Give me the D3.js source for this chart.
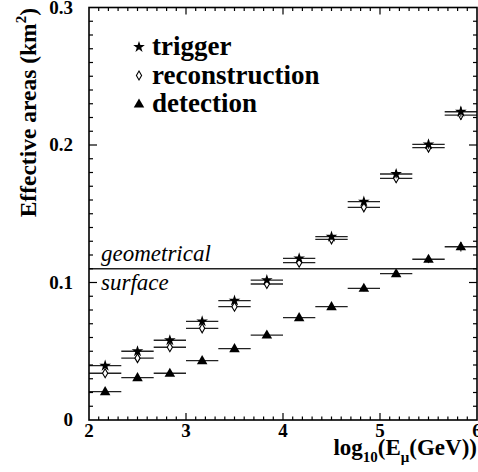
<!DOCTYPE html>
<html><head><meta charset="utf-8">
<script src="https://cdn.jsdelivr.net/npm/d3@7"></script>
<style>
body{margin:0;background:#fff}svg{display:block}
text{font-family:"Liberation Serif","Times New Roman",Times,"DejaVu Serif",serif;}
</style>
</head><body>
<script>
// ---- data ----
const binLow  = [2.0, 2.333, 2.667, 3.0, 3.333, 3.667, 4.0, 4.333, 4.667, 5.0, 5.333, 5.667];
const binHigh = [2.333, 2.667, 3.0, 3.333, 3.667, 4.0, 4.333, 4.667, 5.0, 5.333, 5.667, 6.0];
const trigger = [0.0395, 0.050, 0.058, 0.0718, 0.0868, 0.1018, 0.1176, 0.1333, 0.1588, 0.1789, 0.2005, 0.2242];
const triggerErr = [0.0010, 0.0011, 0.0012, 0.0014, 0.0016, 0.0018, 0.0020, 0.0022, 0.0026, 0.0030, 0.0033, 0.0037];
const reconstruction = [0.034, 0.045, 0.0529, 0.0667, 0.0824, 0.0989, 0.1144, 0.1314, 0.1547, 0.1758, 0.1981, 0.2218];
const reconstructionErr = [0.0010, 0.0011, 0.0012, 0.0014, 0.0016, 0.0018, 0.0020, 0.0022, 0.0026, 0.0030, 0.0033, 0.0037];
const detection = [0.0206, 0.0308, 0.034, 0.0432, 0.0519, 0.0618, 0.0744, 0.0824, 0.0958, 0.1064, 0.1169, 0.126];
const detectionErr = [0.0008, 0.0009, 0.0010, 0.0011, 0.0013, 0.0014, 0.0016, 0.0018, 0.0021, 0.0024, 0.0028, 0.0035];
const geometricalSurface = 0.11;
const xTicks = [2, 3, 4, 5, 6];
const yTicks = [0, 0.1, 0.2, 0.3];
const yTickLabels = ["0", "0.1", "0.2", "0.3"];
const legendLabels = ["trigger", "reconstruction", "detection"];

const W = 478, H = 472;
const x = d3.scaleLinear().domain([2, 6]).range([89, 477]);
const y = d3.scaleLinear().domain([0, 0.3]).range([420, 7.5]);

const svg = d3.select("body").append("svg").attr("width", W).attr("height", H);

// markers
const starPath = d3.symbol().type(d3.symbolStar).size(42)();
const triPath = d3.symbol().type(d3.symbolTriangle).size(48)();
const diamondPath = "M0,-4.5L2.6,0L0,4.5L-2.6,0Z";

function drawSeries(vals, errs, kind) {
  const g = svg.append("g");
  vals.forEach((v, i) => {
    const cx = x((binLow[i] + binHigh[i]) / 2);
    g.append("line").attr("x1", x(binLow[i])).attr("x2", x(binHigh[i]))
      .attr("y1", y(v)).attr("y2", y(v)).attr("stroke", "#222").attr("stroke-width", 1.3);
    g.append("line").attr("x1", cx).attr("x2", cx)
      .attr("y1", y(v - errs[i])).attr("y2", y(v + errs[i])).attr("stroke", "#222").attr("stroke-width", 1.2);
    drawMarker(g, kind, cx, y(v));
  });
}
function drawMarker(g, kind, cx, cy) {
  if (kind === "star") g.append("path").attr("d", starPath).attr("transform", `translate(${cx},${cy})`).attr("fill", "#000");
  else if (kind === "diamond") g.append("path").attr("d", diamondPath).attr("transform", `translate(${cx},${cy})`).attr("fill", "#fff").attr("stroke", "#000").attr("stroke-width", 1.1);
  else g.append("path").attr("d", triPath).attr("transform", `translate(${cx},${cy+0.5})`).attr("fill", "#000");
}

drawSeries(detection, detectionErr, "tri");
drawSeries(reconstruction, reconstructionErr, "diamond");
drawSeries(trigger, triggerErr, "star");

// geometrical surface line
svg.append("line").attr("x1", x(2)).attr("x2", x(6))
  .attr("y1", y(geometricalSurface)).attr("y2", y(geometricalSurface))
  .attr("stroke", "#222").attr("stroke-width", 1.3);
svg.append("text").attr("x", 101).attr("y", 261)
  .style("font-style", "italic").style("font-size", "23px").text("geometrical");
svg.append("text").attr("x", 101).attr("y", 290)
  .style("font-style", "italic").style("font-size", "23px").text("surface");

// frame
svg.append("rect").attr("x", x(2)).attr("y", y(0.3)).attr("width", x(6) - x(2)).attr("height", y(0) - y(0.3))
  .attr("fill", "none").attr("stroke", "#000").attr("stroke-width", 1.6);

// ticks
const xMinor = d3.range(21, 60).map(d => d / 10);
const yMinor = d3.range(1, 30).map(d => d / 100);
const tg = svg.append("g").attr("stroke", "#000").attr("stroke-width", 1.2);
xMinor.forEach(t => {
  const major = Math.abs(t - Math.round(t)) < 1e-9;
  const L = major ? 7 : 3.5;
  tg.append("line").attr("x1", x(t)).attr("x2", x(t)).attr("y1", y(0)).attr("y2", y(0) - L);
  tg.append("line").attr("x1", x(t)).attr("x2", x(t)).attr("y1", y(0.3)).attr("y2", y(0.3) + L);
});
yMinor.forEach(t => {
  const major = Math.abs(t * 10 - Math.round(t * 10)) < 1e-9;
  const L = major ? 8 : 4;
  tg.append("line").attr("x1", x(2)).attr("x2", x(2) + L).attr("y1", y(t)).attr("y2", y(t));
  tg.append("line").attr("x1", x(6)).attr("x2", x(6) - L).attr("y1", y(t)).attr("y2", y(t));
});

// tick labels
xTicks.forEach(t => {
  svg.append("text").attr("x", x(t)).attr("y", 437).attr("text-anchor", "middle")
    .style("font-weight", "bold").style("font-size", "19px").text(String(t));
});
yTicks.forEach((t, i) => {
  svg.append("text").attr("x", 73).attr("y", y(t) + 6).attr("text-anchor", "end")
    .style("font-weight", "bold").style("font-size", "19px").text(yTickLabels[i]);
});

// axis titles
const xt = svg.append("text").attr("x", 477).attr("y", 455).attr("text-anchor", "end")
  .style("font-weight", "bold").style("font-size", "23px");
xt.append("tspan").text("log");
xt.append("tspan").style("font-size", "15px").attr("dy", 7).text("10");
xt.append("tspan").attr("dy", -7).text("(E");
xt.append("tspan").style("font-size", "15px").attr("dy", 7).text("μ");
xt.append("tspan").attr("dy", -7).text("(GeV))");

const yt = svg.append("text").attr("transform", "translate(36,8) rotate(-90)").attr("text-anchor", "end")
  .style("font-weight", "bold").style("font-size", "23.5px");
yt.append("tspan").text("Effective areas (km");
yt.append("tspan").style("font-size", "15px").attr("dy", -10).text("2");
yt.append("tspan").attr("dy", 10).text(")");

// legend
const legKinds = ["star", "diamond", "tri"];
const lg = svg.append("g");
legendLabels.forEach((lab, i) => {
  const ly = 47 + i * 28.5;
  drawMarker(lg, legKinds[i], 139, ly);
  lg.append("text").attr("x", 152).attr("y", ly + 8)
    .style("font-weight", "bold").style("font-size", "27px").text(lab);
});
</script>
</body></html>
